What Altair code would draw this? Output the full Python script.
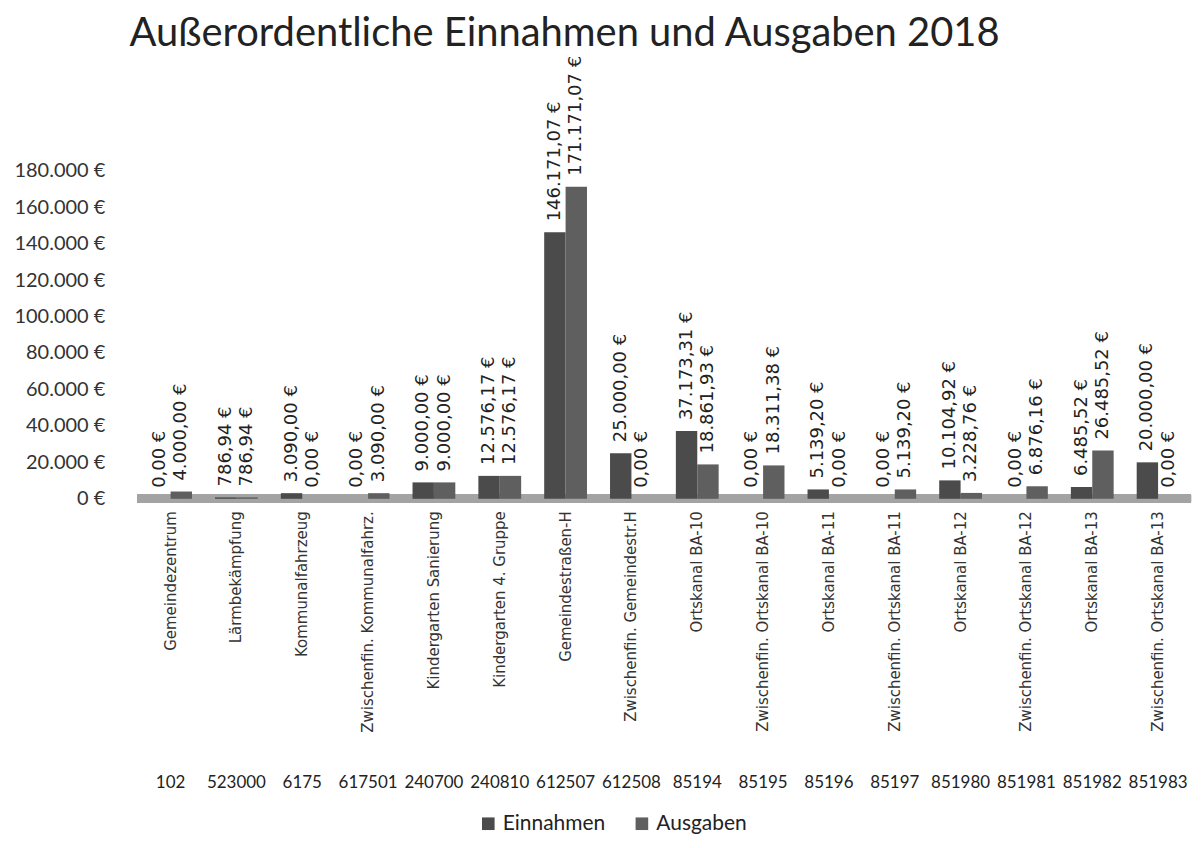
import altair as alt
import pandas as pd

names = ["Gemeindezentrum", "Lärmbekämpfung", "Kommunalfahrzeug",
         "Zwischenfin. Kommunalfahrz.", "Kindergarten Sanierung",
         "Kindergarten 4. Gruppe", "Gemeindestraßen-H",
         "Zwischenfin. Gemeindestr.H", "Ortskanal BA-10",
         "Zwischenfin. Ortskanal BA-10", "Ortskanal BA-11",
         "Zwischenfin. Ortskanal BA-11", "Ortskanal BA-12",
         "Zwischenfin. Ortskanal BA-12", "Ortskanal BA-13",
         "Zwischenfin. Ortskanal BA-13"]
codes = ["102", "523000", "6175", "617501", "240700", "240810", "612507",
         "612508", "85194", "85195", "85196", "85197", "851980", "851981",
         "851982", "851983"]
einnahmen = [0.00, 786.94, 3090.00, 0.00, 9000.00, 12576.17, 146171.07,
             25000.00, 37173.31, 0.00, 5139.20, 0.00, 10104.92, 0.00,
             6485.52, 20000.00]
ausgaben = [4000.00, 786.94, 0.00, 3090.00, 9000.00, 12576.17, 171171.07,
            0.00, 18861.93, 18311.38, 0.00, 5139.20, 3228.76, 6876.16,
            26485.52, 0.00]
series = ["Einnahmen", "Ausgaben"]
series_colors = ["#4b4b4b", "#5f5f5f"]
y_ticks = list(range(0, 180001, 20000))
title_text = "Außerordentliche Einnahmen und Ausgaben 2018"


def eur(v):
    s = f"{v:,.2f}"
    return s.replace(",", "X").replace(".", ",").replace("X", ".") + " €"


keys = [f"{c}|{n}" for c, n in zip(codes, names)]
rows = []
for k, e, a in zip(keys, einnahmen, ausgaben):
    rows.append({"key": k, "serie": "Einnahmen", "wert": e, "label": eur(e)})
    rows.append({"key": k, "serie": "Ausgaben", "wert": a, "label": eur(a)})
df = pd.DataFrame(rows)

W, H = 1056, 329

x_scale = alt.Scale(paddingInner=0.35, paddingOuter=0.175)
x_names = alt.X(
    "key:N", sort=keys, scale=x_scale,
    axis=alt.Axis(title=None, labelExpr="split(datum.value, '|')[1]",
                  labelAngle=270, labelAlign="right", labelBaseline="middle",
                  labelFont="DejaVu Sans", labelFontSize=15, labelColor="#333",
                  labelPadding=12, ticks=False, domain=False, labelLimit=400,
                  labelOverlap=False, orient="bottom"))
x_codes = alt.X(
    "key:N", sort=keys, scale=x_scale,
    axis=alt.Axis(title=None, labelExpr="split(datum.value, '|')[0]",
                  labelAngle=0, labelAlign="center", labelBaseline="top",
                  labelFont="Lato", labelFontSize=17, labelColor="#222",
                  labelPadding=8, ticks=False, domain=False, offset=268,
                  labelOverlap=False, orient="bottom"))
y_scale = alt.Scale(domain=[0, 180000], nice=False)
y_axis = alt.Axis(values=y_ticks, title=None,
                  labelExpr="replace(format(datum.value, ',d'), ',', '.') + ' €'",
                  labelFont="Lato", labelFontSize=20, labelColor="#333",
                  labelPadding=33, ticks=False, domain=False, grid=False,
                  labelOverlap=False, labelBound=False)
y_enc = alt.Y("wert:Q", scale=y_scale, axis=y_axis)
xoff = alt.XOffset("serie:N", sort=series, scale=alt.Scale(paddingInner=0))

base = alt.Chart(df)

floor = base.mark_rule(color="#a3a3a3", strokeWidth=8).encode(
    y=alt.YDatum(0, type="quantitative", scale=y_scale, axis=y_axis))

bars = base.mark_bar().encode(
    x=x_names, xOffset=xoff, y=y_enc,
    color=alt.Color("serie:N", sort=series,
                    scale=alt.Scale(domain=series, range=series_colors),
                    legend=alt.Legend(title=None, orient="none",
                                      legendX=341, legendY=644,
                                      direction="horizontal",
                                      labelFont="Lato", labelFontSize=21,
                                      labelColor="#222", symbolType="square",
                                      symbolSize=160, symbolStrokeWidth=0,
                                      columnPadding=26, labelOffset=4)))

labels = base.mark_text(angle=270, align="left", baseline="middle", dx=11,
                        font="DejaVu Sans", fontSize=18, color="#222").encode(
    x=x_codes, xOffset=xoff, y=y_enc, text="label:N")

chart = alt.layer(floor, bars, labels).resolve_axis(x="independent").properties(
    width=W, height=H,
    padding={"left": 5, "top": 4, "right": 0, "bottom": 0},
    title=alt.TitleParams(title_text, font="Lato", fontSize=40,
                          fontWeight="normal", color="#222", anchor="middle",
                          offset=2, dx=-100),
).configure_view(stroke=None)

chart.save("out.html", embed_options={"renderer": "svg", "actions": False})
